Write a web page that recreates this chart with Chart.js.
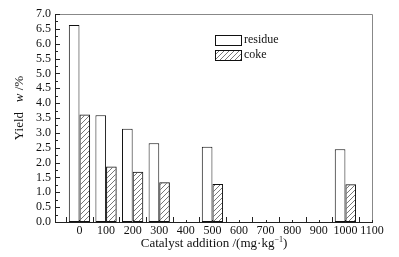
<!DOCTYPE html>
<html>
<head>
<meta charset="utf-8">
<script src="https://cdn.jsdelivr.net/npm/chart.js@4"></script>
<style>
  html, body { margin: 0; padding: 0; background: #fff; }
</style>
</head>
<body>
<canvas id="yieldChart" width="399" height="257"></canvas>
<script>
// 데이터
const additions = [0, 100, 200, 300, 500, 1000];
const residueYield = [6.63, 3.59, 3.14, 2.65, 2.53, 2.45];
const cokeYield = [3.62, 1.87, 1.69, 1.34, 1.28, 1.27];
const xTickValues = [0, 100, 200, 300, 400, 500, 600, 700, 800, 900, 1000, 1100];
const yTickValues = [0, 0.5, 1, 1.5, 2, 2.5, 3, 3.5, 4, 4.5, 5, 5.5, 6, 6.5, 7];
const seriesNames = ["residue", "coke"];

const serif = "'Liberation Serif', 'DejaVu Serif', serif";

// 사선 해칭 패턴
const makeHatch = () => {
  const c = document.createElement("canvas");
  c.width = 5;
  c.height = 5;
  const g = c.getContext("2d");
  g.strokeStyle = "#555";
  g.lineWidth = 0.8;
  g.beginPath();
  g.moveTo(0, 5); g.lineTo(5, 0);
  g.moveTo(-1, 1); g.lineTo(1, -1);
  g.moveTo(4, 6); g.lineTo(6, 4);
  g.stroke();
  return g.createPattern(c, "repeat");
};
const hatch = makeHatch();

// 안쪽 눈금, 테두리, 범례, 축 제목
const decorations = {
  id: "decorations",
  afterDraw(chart) {
    const { ctx, chartArea: a, scales } = chart;
    ctx.save();

    // top / right frame
    ctx.strokeStyle = "#888";
    ctx.lineWidth = 1;
    ctx.beginPath();
    ctx.moveTo(a.left, a.top + 0.5);
    ctx.lineTo(a.right + 0.5, a.top + 0.5);
    ctx.lineTo(a.right + 0.5, a.bottom);
    ctx.stroke();

    // inward ticks
    ctx.strokeStyle = "#222";
    ctx.beginPath();
    for (let v = 0; v <= 7.001; v += 0.25) {
      const y = Math.round(scales.y.getPixelForValue(v)) + 0.5;
      const len = Math.abs(v * 2 - Math.round(v * 2)) < 0.01 ? 5 : 3;
      ctx.moveTo(a.left, y);
      ctx.lineTo(a.left + len, y);
    }
    for (let v = -50; v <= 1100; v += 50) {
      const x = Math.round(scales.x.getPixelForValue(v)) + 0.5;
      const len = v % 100 === 0 ? 2 : 5;
      ctx.moveTo(x, a.bottom);
      ctx.lineTo(x, a.bottom - len);
    }
    ctx.stroke();

    // legend
    chart.data.datasets.forEach((ds, i) => {
      const bx = 215, by = 35 + i * 15;
      ctx.fillStyle = ds.backgroundColor;
      ctx.fillRect(bx, by, 26, 10);
      ctx.strokeStyle = "#111";
      ctx.strokeRect(bx + 0.5, by + 0.5, 26, 10);
      ctx.fillStyle = "#111";
      ctx.font = `12px ${serif}`;
      ctx.textBaseline = "middle";
      ctx.textAlign = "left";
      ctx.fillText(ds.label, bx + 29, by + 5);
    });

    // y title
    ctx.save();
    ctx.translate(20, 108);
    ctx.rotate(-Math.PI / 2);
    const parts = [
      { t: "Yield", f: `13px ${serif}` },
      { t: "   ", f: `13px ${serif}` },
      { t: "w", f: `italic 13px ${serif}` },
      { t: " /%", f: `13px ${serif}` },
    ];
    let total = 0;
    parts.forEach((p) => { ctx.font = p.f; total += ctx.measureText(p.t).width; });
    let px = -total / 2;
    ctx.fillStyle = "#111";
    ctx.textBaseline = "middle";
    ctx.textAlign = "left";
    parts.forEach((p) => {
      ctx.font = p.f;
      ctx.fillText(p.t, px, 0);
      px += ctx.measureText(p.t).width;
    });
    ctx.restore();

    // x title
    const main = "Catalyst addition /(mg·kg";
    const sup = "−1";
    const tail = ")";
    ctx.font = `13px ${serif}`;
    const w1 = ctx.measureText(main).width;
    const w3 = ctx.measureText(tail).width;
    ctx.font = `8px ${serif}`;
    const w2 = ctx.measureText(sup).width;
    let sx = 214 - (w1 + w2 + w3) / 2;
    const base = 247;
    ctx.textBaseline = "alphabetic";
    ctx.fillStyle = "#111";
    ctx.font = `13px ${serif}`;
    ctx.fillText(main, sx, base);
    sx += w1;
    ctx.font = `8px ${serif}`;
    ctx.fillText(sup, sx, base - 5);
    sx += w2;
    ctx.font = `13px ${serif}`;
    ctx.fillText(tail, sx, base);

    ctx.restore();
  },
};

const ctx = document.getElementById("yieldChart").getContext("2d");

new Chart(ctx, {
  type: "bar",
  data: {
    datasets: [
      {
        label: seriesNames[0],
        data: additions.map((x, i) => ({ x: x, y: residueYield[i] })),
        backgroundColor: "#ffffff",
        borderColor: "#111",
        borderWidth: 1,
        borderSkipped: false,
      },
      {
        label: seriesNames[1],
        data: additions.map((x, i) => ({ x: x, y: cokeYield[i] })),
        backgroundColor: hatch,
        borderColor: "#111",
        borderWidth: 1,
        borderSkipped: false,
      },
    ],
  },
  options: {
    responsive: false,
    animation: false,
    devicePixelRatio: 1,
    categoryPercentage: 0.8,
    barPercentage: 1,
    layout: { padding: { left: 0, top: 14, right: 27, bottom: 0 } },
    plugins: {
      legend: { display: false },
      tooltip: { enabled: false },
    },
    scales: {
      x: {
        type: "linear",
        min: -92,
        max: 1100,
        offset: false,
        grid: { display: false, drawTicks: false, offset: false },
        border: { display: true, color: "#222", width: 1 },
        afterBuildTicks: (scale) => {
          scale.ticks = xTickValues.map((v) => ({ value: v }));
        },
        afterFit: (scale) => {
          scale.height = 35;
          scale.paddingLeft = 0;
          scale.paddingRight = 0;
        },
        ticks: {
          autoSkip: false,
          maxRotation: 0,
          padding: 2,
          color: "#111",
          font: { family: serif, size: 12 },
          callback: (v) => String(v),
        },
      },
      y: {
        min: 0,
        max: 7,
        grid: { display: false, drawTicks: false },
        border: { display: true, color: "#222", width: 1 },
        afterBuildTicks: (scale) => {
          scale.ticks = yTickValues.map((v) => ({ value: v }));
        },
        afterFit: (scale) => {
          scale.width = 55;
          scale.paddingTop = 0;
          scale.paddingBottom = 0;
        },
        ticks: {
          autoSkip: false,
          padding: 4,
          color: "#111",
          font: { family: serif, size: 12 },
          callback: (v) => Number(v).toFixed(1),
        },
      },
    },
  },
  plugins: [decorations],
});
</script>
</body>
</html>
